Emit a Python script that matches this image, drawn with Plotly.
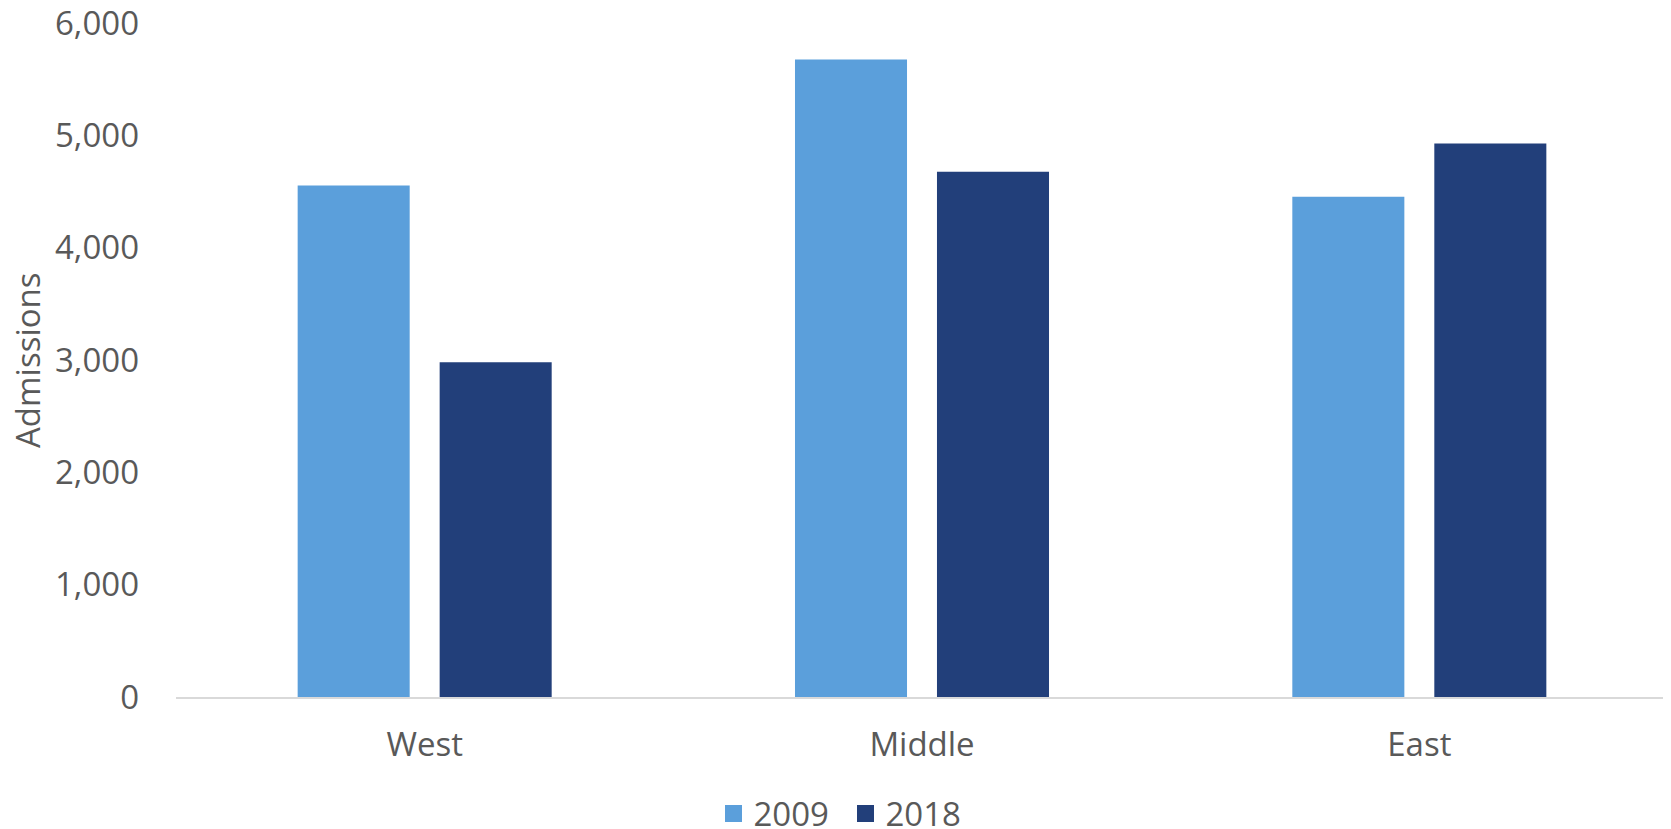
import plotly.graph_objects as go

regions = ["West", "Middle", "East"]
admissions_2009 = [4554, 5674, 4454]
admissions_2018 = [2981, 4676, 4928]
y_ticks = [0, 1000, 2000, 3000, 4000, 5000, 6000]
y_tick_labels = ["0", "1,000", "2,000", "3,000", "4,000", "5,000", "6,000"]

C2009 = "#5B9FDB"
C2018 = "#223F7A"
TXT = "#595959"
FONT = "Open Sans, Liberation Sans, Arial, sans-serif"

# page has an 8px body margin, so the figure is 8px smaller than the window
W, H = 1663, 821
L, T = 168, 15
PW, PH = 1492, 674
R, B = W - L - PW, H - T - PH

fig = go.Figure()
fig.add_trace(go.Bar(name="2009", x=regions, y=admissions_2009, legendgroup="a", showlegend=False,
                     marker=dict(color=C2009, line=dict(width=0))))
fig.add_trace(go.Bar(name="2018", x=regions, y=admissions_2018, legendgroup="b", showlegend=False,
                     marker=dict(color=C2018, line=dict(width=0))))
# legend entries (square symbols) on a hidden overlay axis so they do not change the grouping
for nm, col, grp in [("2009", C2009, "a"), ("2018", C2018, "b")]:
    fig.add_trace(go.Bar(name=nm, x=[None], y=[None], legendgroup=grp, xaxis="x2", yaxis="y2",
                         marker=dict(color=col, line=dict(color=col, width=8)), hoverinfo="skip"))

fig.update_layout(
    width=W, height=H,
    margin=dict(l=L, r=R, t=T, b=B, autoexpand=False),
    paper_bgcolor="white", plot_bgcolor="white",
    barmode="group", bargap=0.429, bargroupgap=0.211,
    font=dict(family=FONT, color=TXT, size=33),
    showlegend=True,
    legend=dict(orientation="h", xref="container", yref="container", x=(704.5 + 1) / W, xanchor="left",
                y=1 - 805.5 / H, yanchor="middle", font=dict(size=33, color=TXT, family=FONT),
                traceorder="normal", entrywidth=87, itemclick=False, itemdoubleclick=False),
    xaxis=dict(showgrid=False, showline=True, linecolor="#D9D9D9", linewidth=2, ticks="",
               tickfont=dict(size=33, color=TXT, family=FONT), ticklabelstandoff=17, fixedrange=True),
    yaxis=dict(range=[0, 6000], tickvals=y_ticks, ticktext=y_tick_labels, showgrid=False,
               zeroline=False, showline=False, ticks="", ticklabelstandoff=36, ticklabeloverflow="allow",
               tickfont=dict(size=33, color=TXT, family=FONT), fixedrange=True),
    xaxis2=dict(visible=False, overlaying="x", fixedrange=True),
    yaxis2=dict(visible=False, overlaying="y", fixedrange=True),
    annotations=[dict(text="Admissions", textangle=-90, xref="paper", yref="paper",
                      x=(19 - L) / PW, y=0.5, xanchor="center", yanchor="middle",
                      showarrow=False, font=dict(size=33, color=TXT, family=FONT))],
)

fig.write_html("out.html")
